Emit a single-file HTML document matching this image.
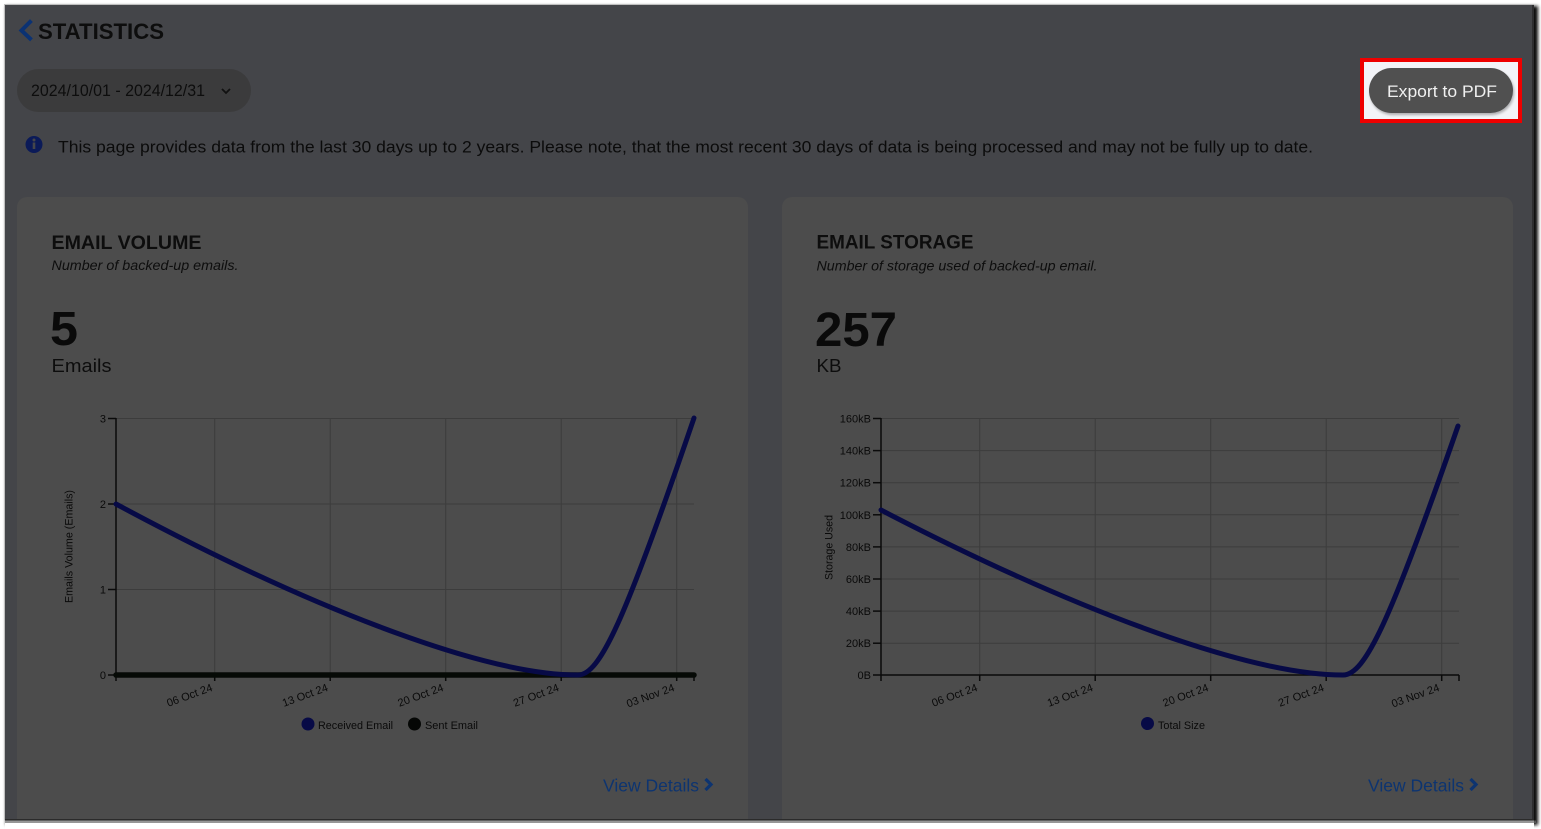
<!DOCTYPE html>
<html><head><meta charset="utf-8"><style>
html,body{margin:0;padding:0;background:#fff;width:1541px;height:829px;overflow:hidden}
svg{display:block}
text{font-family:"Liberation Sans",Arial,sans-serif}
</style></head><body>
<svg width="1541" height="829" viewBox="0 0 1541 829" xmlns="http://www.w3.org/2000/svg">
<defs>
<filter id="sh" x="-1%" y="-1%" width="102%" height="103%"><feGaussianBlur stdDeviation="1.6"/></filter>
<filter id="bsh" x="-10%" y="-10%" width="120%" height="130%"><feGaussianBlur stdDeviation="1.2"/></filter>
</defs>
<rect x="0" y="0" width="1541" height="829" fill="#ffffff"/>
<!-- frame shadow -->
<rect x="6" y="6" width="1532" height="819" fill="#111" filter="url(#sh)"/>
<rect x="4" y="4" width="1530" height="816" fill="#bfbfbf"/>
<rect x="5" y="5" width="1529" height="815" fill="#444549"/>
<rect x="1532" y="5" width="2" height="815" fill="#2e2e30"/>

<!-- header -->
<polyline points="30,22 21.5,30.5 30,38.5" fill="none" stroke="#0b3273" stroke-width="4" stroke-linecap="square"/>
<text x="38" y="39" font-size="22" font-weight="bold" fill="#0d0d0d" textLength="126" lengthAdjust="spacingAndGlyphs">STATISTICS</text>

<rect x="17" y="69" width="234" height="43" rx="21.5" fill="#3b3b3c"/>
<text x="31" y="96" font-size="17" fill="#0d0d0d" textLength="174" lengthAdjust="spacingAndGlyphs">2024/10/01 - 2024/12/31</text>
<polyline points="222,89 226,93 230,89" fill="none" stroke="#111" stroke-width="1.8"/>

<circle cx="34" cy="144.5" r="8.5" fill="#0b1a58"/>
<circle cx="34" cy="140" r="1.5" fill="#45464a"/>
<rect x="32.7" y="142.5" width="2.6" height="6.5" fill="#45464a"/>
<text x="58" y="152.5" font-size="17" fill="#0b0b0b" textLength="1255" lengthAdjust="spacingAndGlyphs">This page provides data from the last 30 days up to 2 years. Please note, that the most recent 30 days of data is being processed and may not be fully up to date.</text>

<!-- export button -->
<rect x="1362" y="60" width="158" height="61" fill="#f3f4f8"/>
<rect x="1362" y="60" width="158" height="61" fill="none" stroke="#ee0000" stroke-width="4"/>
<rect x="1370" y="70" width="144" height="45" rx="22.5" fill="#2a2a2a" opacity="0.35" filter="url(#bsh)"/>
<rect x="1369" y="68" width="144" height="45" rx="22.5" fill="#505050"/>
<text x="1387" y="97" font-size="17" fill="#f0f0f0" textLength="110" lengthAdjust="spacingAndGlyphs">Export to PDF</text>

<!-- cards -->
<rect x="17" y="197" width="731" height="660" rx="10" fill="#4c4c4c"/>
<rect x="782" y="197" width="731" height="660" rx="10" fill="#4c4c4c"/>
<rect x="5" y="820" width="1529" height="9" fill="#ffffff"/>
<rect x="5" y="819" width="1529" height="1.5" fill="#2b2b2b"/>
<rect x="5" y="820.5" width="1531" height="2.5" fill="#6a6a6a" opacity="0.7"/>

<!-- card 1 text -->
<text x="51.5" y="249" font-size="19" font-weight="bold" fill="#0d0d0d" textLength="150" lengthAdjust="spacingAndGlyphs">EMAIL VOLUME</text>
<text x="51.5" y="270" font-size="13.5" font-style="italic" fill="#0d0d0d" textLength="187" lengthAdjust="spacingAndGlyphs">Number of backed-up emails.</text>
<text x="50" y="345" font-size="48" font-weight="bold" fill="#0a0a0a" textLength="28" lengthAdjust="spacingAndGlyphs">5</text>
<text x="51.5" y="372" font-size="18" fill="#0d0d0d" textLength="60" lengthAdjust="spacingAndGlyphs">Emails</text>

<!-- card 2 text -->
<text x="816.5" y="248.5" font-size="19" font-weight="bold" fill="#0d0d0d" textLength="157" lengthAdjust="spacingAndGlyphs">EMAIL STORAGE</text>
<text x="816.5" y="270.5" font-size="13.5" font-style="italic" fill="#0d0d0d" textLength="281" lengthAdjust="spacingAndGlyphs">Number of storage used of backed-up email.</text>
<text x="815" y="346" font-size="48" font-weight="bold" fill="#0a0a0a" textLength="82" lengthAdjust="spacingAndGlyphs">257</text>
<text x="816.5" y="372" font-size="18" fill="#0d0d0d" textLength="25" lengthAdjust="spacingAndGlyphs">KB</text>

<!-- ===== chart 1 ===== -->
<g stroke="#3c3c3c" stroke-width="1" fill="none">
<line x1="116" y1="418.5" x2="694" y2="418.5"/>
<line x1="116" y1="504" x2="694" y2="504"/>
<line x1="116" y1="589.5" x2="694" y2="589.5"/>
<line x1="214.7" y1="418" x2="214.7" y2="675"/>
<line x1="330.2" y1="418" x2="330.2" y2="675"/>
<line x1="445.7" y1="418" x2="445.7" y2="675"/>
<line x1="561.2" y1="418" x2="561.2" y2="675"/>
<line x1="676.7" y1="418" x2="676.7" y2="675"/>
</g>
<g stroke="#0a0a0a" stroke-width="1.5" fill="none">
<line x1="116" y1="418" x2="116" y2="675"/>
<line x1="116" y1="675" x2="694" y2="675"/>
<line x1="108" y1="418.5" x2="116" y2="418.5"/>
<line x1="108" y1="504" x2="116" y2="504"/>
<line x1="108" y1="589.5" x2="116" y2="589.5"/>
<line x1="108" y1="675" x2="116" y2="675"/>
<line x1="116" y1="675" x2="116" y2="681"/>
<line x1="214.7" y1="675" x2="214.7" y2="681"/>
<line x1="330.2" y1="675" x2="330.2" y2="681"/>
<line x1="445.7" y1="675" x2="445.7" y2="681"/>
<line x1="561.2" y1="675" x2="561.2" y2="681"/>
<line x1="676.7" y1="675" x2="676.7" y2="681"/>
<line x1="694" y1="675" x2="694" y2="681"/>
</g>
<g font-size="11" fill="#0a0a0a" text-anchor="end">
<text x="106" y="422.5">3</text>
<text x="106" y="508">2</text>
<text x="106" y="593.5">1</text>
<text x="106" y="679">0</text>
<text transform="translate(213.2,690.5) rotate(-20)">06 Oct 24</text>
<text transform="translate(328.7,690.5) rotate(-20)">13 Oct 24</text>
<text transform="translate(444.2,690.5) rotate(-20)">20 Oct 24</text>
<text transform="translate(559.7,690.5) rotate(-20)">27 Oct 24</text>
<text transform="translate(675.2,690.5) rotate(-20)">03 Nov 24</text>
</g>
<text transform="translate(72.5,546.5) rotate(-90)" font-size="11" fill="#0a0a0a" text-anchor="middle" textLength="113" lengthAdjust="spacingAndGlyphs">Emails Volume (Emails)</text>
<line x1="116" y1="675" x2="694" y2="675" stroke="#060a06" stroke-width="5.5" stroke-linecap="round"/>
<path d="M116,504 C300,603 480,675 578,675 C600,675 625,620 694,418" fill="none" stroke="#070a46" stroke-width="5" stroke-linecap="round"/>
<circle cx="308" cy="724" r="6.5" fill="#070a46"/>
<text x="318" y="729" font-size="11" fill="#0a0a0a" textLength="75" lengthAdjust="spacingAndGlyphs">Received Email</text>
<circle cx="414.5" cy="724" r="6.5" fill="#050705"/>
<text x="425" y="729" font-size="11" fill="#0a0a0a" textLength="53" lengthAdjust="spacingAndGlyphs">Sent Email</text>

<text x="603" y="791.5" font-size="17.5" fill="#0d3470" textLength="96" lengthAdjust="spacingAndGlyphs">View Details</text>
<polyline points="705.5,779 711,784.5 705.5,790" fill="none" stroke="#0d3470" stroke-width="3.2"/>

<!-- ===== chart 2 ===== -->
<g stroke="#3c3c3c" stroke-width="1" fill="none">
<line x1="881" y1="418.5" x2="1459" y2="418.5"/>
<line x1="881" y1="450.6" x2="1459" y2="450.6"/>
<line x1="881" y1="482.7" x2="1459" y2="482.7"/>
<line x1="881" y1="514.8" x2="1459" y2="514.8"/>
<line x1="881" y1="546.9" x2="1459" y2="546.9"/>
<line x1="881" y1="579" x2="1459" y2="579"/>
<line x1="881" y1="611.1" x2="1459" y2="611.1"/>
<line x1="881" y1="643.2" x2="1459" y2="643.2"/>
<line x1="979.7" y1="418" x2="979.7" y2="675"/>
<line x1="1095.2" y1="418" x2="1095.2" y2="675"/>
<line x1="1210.7" y1="418" x2="1210.7" y2="675"/>
<line x1="1326.2" y1="418" x2="1326.2" y2="675"/>
<line x1="1441.7" y1="418" x2="1441.7" y2="675"/>
</g>
<g stroke="#0a0a0a" stroke-width="1.5" fill="none">
<line x1="881" y1="418" x2="881" y2="675"/>
<line x1="881" y1="675" x2="1459" y2="675"/>
<line x1="873" y1="418.5" x2="881" y2="418.5"/>
<line x1="873" y1="450.6" x2="881" y2="450.6"/>
<line x1="873" y1="482.7" x2="881" y2="482.7"/>
<line x1="873" y1="514.8" x2="881" y2="514.8"/>
<line x1="873" y1="546.9" x2="881" y2="546.9"/>
<line x1="873" y1="579" x2="881" y2="579"/>
<line x1="873" y1="611.1" x2="881" y2="611.1"/>
<line x1="873" y1="643.2" x2="881" y2="643.2"/>
<line x1="873" y1="675" x2="881" y2="675"/>
<line x1="881" y1="675" x2="881" y2="681"/>
<line x1="979.7" y1="675" x2="979.7" y2="681"/>
<line x1="1095.2" y1="675" x2="1095.2" y2="681"/>
<line x1="1210.7" y1="675" x2="1210.7" y2="681"/>
<line x1="1326.2" y1="675" x2="1326.2" y2="681"/>
<line x1="1441.7" y1="675" x2="1441.7" y2="681"/>
<line x1="1459" y1="675" x2="1459" y2="681"/>
</g>
<g font-size="11" fill="#0a0a0a" text-anchor="end">
<text x="871" y="422.5">160kB</text>
<text x="871" y="454.6">140kB</text>
<text x="871" y="486.7">120kB</text>
<text x="871" y="518.8">100kB</text>
<text x="871" y="550.9">80kB</text>
<text x="871" y="583">60kB</text>
<text x="871" y="615.1">40kB</text>
<text x="871" y="647.2">20kB</text>
<text x="871" y="679">0B</text>
<text transform="translate(978.2,690.5) rotate(-20)">06 Oct 24</text>
<text transform="translate(1093.7,690.5) rotate(-20)">13 Oct 24</text>
<text transform="translate(1209.2,690.5) rotate(-20)">20 Oct 24</text>
<text transform="translate(1324.7,690.5) rotate(-20)">27 Oct 24</text>
<text transform="translate(1440.2,690.5) rotate(-20)">03 Nov 24</text>
</g>
<text transform="translate(832.5,547.5) rotate(-90)" font-size="11" fill="#0a0a0a" text-anchor="middle" textLength="65" lengthAdjust="spacingAndGlyphs">Storage Used</text>
<path d="M881,510 C1065,605.5 1245,675 1343,675 C1365,675 1390,622 1458,426" fill="none" stroke="#070a46" stroke-width="5" stroke-linecap="round"/>
<circle cx="1147.5" cy="723.5" r="6.5" fill="#070a46"/>
<text x="1158" y="729" font-size="11" fill="#0a0a0a" textLength="47" lengthAdjust="spacingAndGlyphs">Total Size</text>

<text x="1368" y="791.5" font-size="17.5" fill="#0d3470" textLength="96" lengthAdjust="spacingAndGlyphs">View Details</text>
<polyline points="1470.5,779 1476,784.5 1470.5,790" fill="none" stroke="#0d3470" stroke-width="3.2"/>
</svg>
</body></html>
